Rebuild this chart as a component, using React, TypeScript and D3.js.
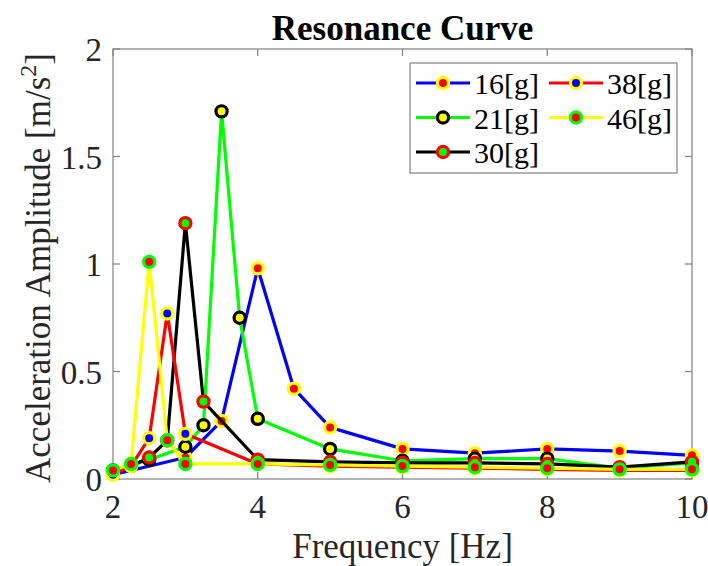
import React, { useEffect, useRef } from 'react';
import * as d3 from 'd3';

const freq16 = [2, 3, 3.5, 4, 4.5, 5, 6, 7, 8, 9, 10];
const amp16 = [0.02, 0.1, 0.27, 0.98, 0.42, 0.24, 0.14, 0.12, 0.14, 0.13, 0.11];

const freq21 = [2, 2.5, 3, 3.25, 3.5, 3.75, 4, 5, 6, 7, 8, 9, 10];
const amp21 = [0.04, 0.09, 0.15, 0.25, 1.71, 0.75, 0.28, 0.14, 0.085, 0.095, 0.095, 0.05, 0.075];

const freq30 = [2, 2.25, 2.5, 2.75, 3, 3.25, 4, 5, 6, 7, 8, 9, 10];
const amp30 = [0.03, 0.06, 0.1, 0.18, 1.19, 0.36, 0.09, 0.08, 0.075, 0.075, 0.07, 0.055, 0.08];

const freq38 = [2, 2.25, 2.5, 2.75, 3, 4, 5, 6, 7, 8, 9, 10];
const amp38 = [0.02, 0.06, 0.19, 0.77, 0.21, 0.07, 0.06, 0.055, 0.05, 0.045, 0.04, 0.04];

const freq46 = [2, 2.25, 2.5, 2.75, 3, 4, 5, 6, 7, 8, 9, 10];
const amp46 = [0.04, 0.07, 1.01, 0.18, 0.07, 0.07, 0.065, 0.06, 0.055, 0.05, 0.045, 0.045];

const seriesNames = ['16[g]', '21[g]', '30[g]', '38[g]', '46[g]'];
const xTicks = [2, 4, 6, 8, 10];
const yTicks = [0, 0.5, 1, 1.5, 2];

export default function App() {
  const ref = useRef<SVGSVGElement>(null);

  useEffect(() => {
    const svg = d3.select(ref.current);
    svg.selectAll('*').remove();
    const width = 708, height = 566;
    const m = { left: 113, right: 16, top: 49, bottom: 87 };
    const font = '"Liberation Serif", "Times New Roman", serif';

    const x = d3.scaleLinear().domain([2, 10]).range([m.left, width - m.right]);
    const y = d3.scaleLinear().domain([0, 2]).range([height - m.bottom, m.top]);

    const series = [
      { name: seriesNames[0], xs: freq16, ys: amp16, line: '#0000ff', face: '#ff0000', edge: '#ffff00' },
      { name: seriesNames[1], xs: freq21, ys: amp21, line: '#00ff00', face: '#ffff00', edge: '#000000' },
      { name: seriesNames[2], xs: freq30, ys: amp30, line: '#000000', face: '#00ff00', edge: '#ff0000' },
      { name: seriesNames[3], xs: freq38, ys: amp38, line: '#ff0000', face: '#0000ff', edge: '#ffff00' },
      { name: seriesNames[4], xs: freq46, ys: amp46, line: '#ffff00', face: '#ff0000', edge: '#00ff00' },
    ];

    svg.append('rect').attr('width', width).attr('height', height).attr('fill', '#fff');

    const x0 = x(2), x1 = x(10), y0 = y(0), y1 = y(2);
    const axisColor = '#808080';
    const tick = 7;

    // box with inward ticks, MATLAB style
    svg.append('rect')
      .attr('x', x0).attr('y', y1).attr('width', x1 - x0).attr('height', y0 - y1)
      .attr('fill', 'none').attr('stroke', axisColor).attr('stroke-width', 1.2);

    xTicks.forEach(t => {
      svg.append('line').attr('x1', x(t)).attr('x2', x(t)).attr('y1', y0).attr('y2', y0 - tick)
        .attr('stroke', axisColor).attr('stroke-width', 1.2);
      svg.append('line').attr('x1', x(t)).attr('x2', x(t)).attr('y1', y1).attr('y2', y1 + tick)
        .attr('stroke', axisColor).attr('stroke-width', 1.2);
      svg.append('text').attr('x', x(t)).attr('y', y0 + 39)
        .attr('text-anchor', 'middle').attr('font-family', font).attr('font-size', 33)
        .attr('fill', '#262626').text(t);
    });
    yTicks.forEach(t => {
      svg.append('line').attr('x1', x0).attr('x2', x0 + tick).attr('y1', y(t)).attr('y2', y(t))
        .attr('stroke', axisColor).attr('stroke-width', 1.2);
      svg.append('line').attr('x1', x1).attr('x2', x1 - tick).attr('y1', y(t)).attr('y2', y(t))
        .attr('stroke', axisColor).attr('stroke-width', 1.2);
      svg.append('text').attr('x', x0 - 11).attr('y', y(t) + 12)
        .attr('text-anchor', 'end').attr('font-family', font).attr('font-size', 33)
        .attr('fill', '#262626').text(t);
    });

    series.forEach(s => {
      const pts = s.xs.map((v, i) => [x(v), y(s.ys[i])] as [number, number]);
      svg.append('path').attr('d', d3.line()(pts)).attr('fill', 'none')
        .attr('stroke', s.line).attr('stroke-width', 3.2).attr('stroke-linejoin', 'round');
      svg.append('g').selectAll('circle').data(pts).join('circle')
        .attr('cx', d => d[0]).attr('cy', d => d[1]).attr('r', 5.6)
        .attr('fill', s.face).attr('stroke', s.edge).attr('stroke-width', 3.2);
    });

    // title
    svg.append('text').attr('x', (x0 + x1) / 2).attr('y', 40)
      .attr('text-anchor', 'middle').attr('font-family', font).attr('font-size', 35)
      .attr('font-weight', 'bold').attr('fill', '#000').text('Resonance Curve');

    // x label
    svg.append('text').attr('x', (x0 + x1) / 2).attr('y', 558)
      .attr('text-anchor', 'middle').attr('font-family', font).attr('font-size', 35)
      .attr('fill', '#262626').text('Frequency [Hz]');

    // y label
    const yl = svg.append('text')
      .attr('transform', `translate(50,268) rotate(-90)`)
      .attr('text-anchor', 'middle').attr('font-family', font).attr('font-size', 35)
      .attr('fill', '#262626');
    yl.append('tspan').text('Acceleration Amplitude [m/s');
    yl.append('tspan').attr('font-size', 24).attr('dy', -14).text('2');
    yl.append('tspan').attr('dy', 14).text(']');

    // legend
    const lg = svg.append('g');
    lg.append('rect').attr('x', 410).attr('y', 63).attr('width', 267).attr('height', 110)
      .attr('fill', '#fff').attr('stroke', axisColor).attr('stroke-width', 1.2);
    series.forEach((s, i) => {
      const col = i < 3 ? 0 : 1;
      const row = i < 3 ? i : i - 3;
      const lx = 416 + col * 133;
      const ly = 83 + row * 34.5;
      lg.append('line').attr('x1', lx).attr('x2', lx + 54).attr('y1', ly).attr('y2', ly)
        .attr('stroke', s.line).attr('stroke-width', 3.2);
      lg.append('circle').attr('cx', lx + 27).attr('cy', ly).attr('r', 5.6)
        .attr('fill', s.face).attr('stroke', s.edge).attr('stroke-width', 3.2);
      lg.append('text').attr('x', lx + 58).attr('y', ly + 11)
        .attr('font-family', font).attr('font-size', 30).attr('fill', '#000').text(s.name);
    });
  }, []);

  return (
    <div style={{ position: 'fixed', left: 0, top: 0 }}>
      <svg ref={ref} width={708} height={566}></svg>
    </div>
  );
}
